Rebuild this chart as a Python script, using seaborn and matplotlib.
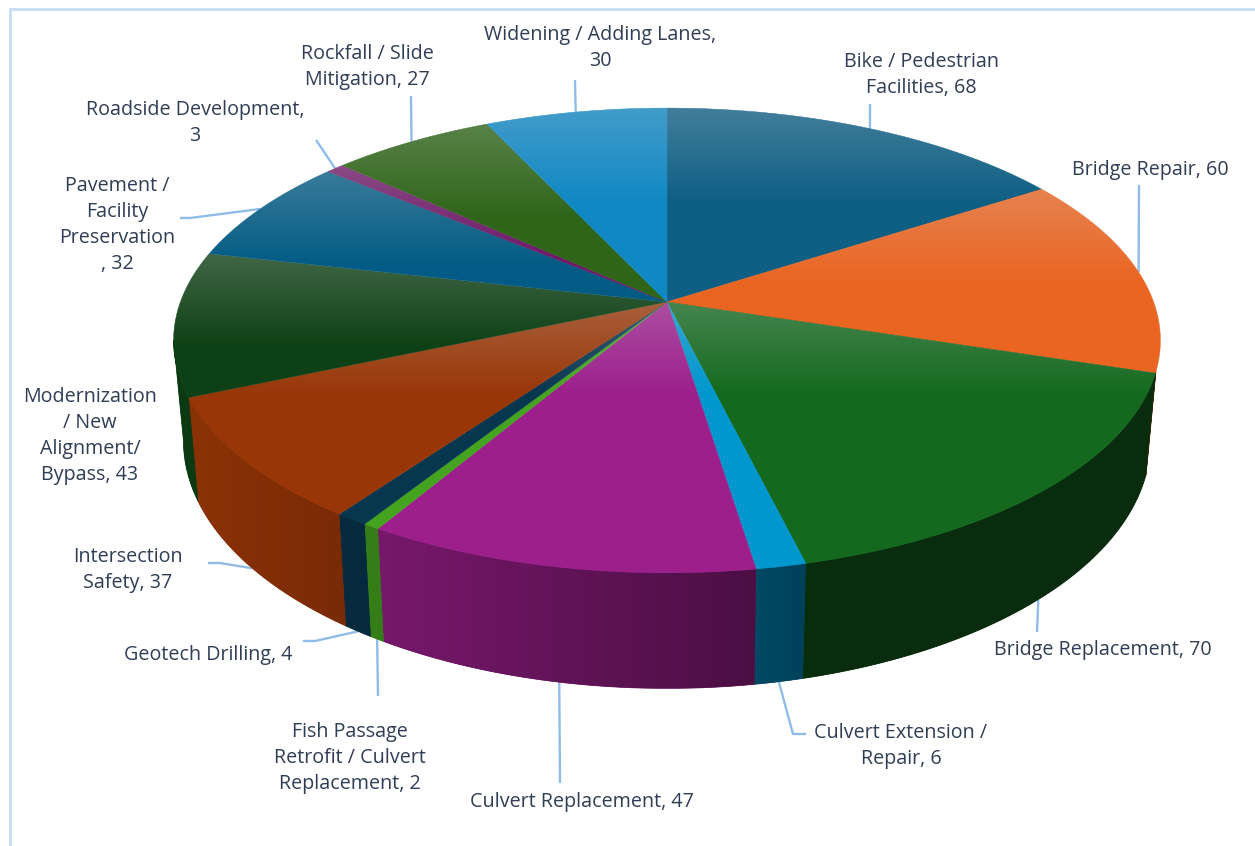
import numpy as np
import matplotlib
matplotlib.use("Agg")
import matplotlib.pyplot as plt
from matplotlib.colors import to_rgb
from matplotlib.patches import Polygon
import seaborn as sns

categories = ["Bike / Pedestrian\nFacilities, ", "Bridge Repair, ", "Bridge Replacement, ",
              "Culvert Extension /\nRepair, ", "Culvert Replacement, ",
              "Fish Passage\nRetrofit / Culvert\nReplacement, ", "Geotech Drilling, ",
              "Intersection\nSafety, ", "Modernization\n/ New\nAlignment/\nBypass, ",
              "Pavement /\nFacility\nPreservation\n, ", "Roadside Development,\n",
              "Rockfall / Slide\nMitigation, ", "Widening / Adding Lanes,\n"]
values = [68, 60, 70, 6, 47, 2, 4, 37, 43, 32, 3, 27, 30]
colors = ["#0F5F85", "#EA6522", "#14691F", "#0096CE", "#9C1F8C", "#44A31F", "#07364F",
          "#983607", "#0D4014", "#025B84", "#6E1A68", "#2E6518", "#1088C4"]
label_pos = [(921, 75), (1150, 170), (1103, 650), (901, 746), (582, 802), (350, 758), (208, 655),
             (128, 570), (90, 436), (117, 225), (195, 123), (367, 67), (600, 48)]
leaders = [[(870, 104)], [(1139, 185)], [(1037, 632)], [(793, 734), (806, 734)], [(560, 783)],
           [(378, 696)], [(315, 641), (303, 641)], [(220, 563), (208, 563)], [],
           [(190, 218), (180, 218)], [(316, 140)], [(411, 96)], [(575, 80)]]

sns.set_theme(style="white", rc={"axes.facecolor": "white", "figure.facecolor": "white"})
plt.rcParams["font.family"] = ["Open Sans", "DejaVu Sans"]

W, H = 1255, 846
fig, ax = plt.subplots(figsize=(W / 100, H / 100), dpi=100)
ax.set_position([0, 0, 1, 1])
ax.set_xlim(0, W)
ax.set_ylim(H, 0)
ax.axis("off")
ax.set_autoscale_on(False)

CX, CY, A, B, P = 667.0, 302.0, 486.6, 226.0, 0.1655


def top(theta):
    x, y = np.sin(theta), np.cos(theta)
    d = 1 + P * y
    return CX + A * x / d, CY - B * y / d


def bottom(theta):
    X, Y = top(theta)
    return CX + (X - CX) * 0.98, CY + (Y - CY) * 1.065 + 98


def shade(x):
    return np.interp(x, [190, 385, 760, 820, 1160], [0.92, 0.76, 0.48, 0.42, 0.42])


edges = np.cumsum([0] + values) / sum(values) * 2 * np.pi
mids = (edges[:-1] + edges[1:]) / 2

# side wall of the disc: front half only, shaded darker towards the right
WALL_FROM, WALL_TO = np.radians(107.0), np.radians(260.5)
for i, col in enumerate(colors):
    lo, hi = max(edges[i], WALL_FROM), min(edges[i + 1], WALL_TO)
    if hi <= lo:
        continue
    grid = np.linspace(lo, hi, max(4, int((hi - lo) * 90)))
    tx, ty = top(grid)
    bx, by = bottom(grid[::-1])
    wx, wy = np.r_[tx, bx], np.r_[ty, by]
    # base layer closes the seams between neighbouring slices
    ax.fill(wx, wy, color=tuple(v * shade(tx.mean()) for v in to_rgb(col)), lw=0.5, zorder=2)
    cols = np.linspace(wx.min(), wx.max(), 64)
    img = np.outer(shade(cols), to_rgb(col)).reshape(1, 64, 3)
    im = ax.imshow(img, extent=(wx.min(), wx.max(), wy.max(), wy.min()), aspect="auto",
                   zorder=2.5, interpolation="bilinear")
    im.set_clip_path(Polygon(np.c_[wx, wy], closed=True, transform=ax.transData))

# top face with a pale sheen along the upper edge of every slice
for i, col in enumerate(colors):
    t = np.linspace(edges[i], edges[i + 1], max(4, int((edges[i + 1] - edges[i]) * 120)))
    xs, ys = top(t)
    xs = np.r_[CX, xs]
    ys = np.r_[CY, ys]
    ax.fill(xs, ys, color=col, lw=0.3, zorder=3)
    ytop = ys.min()
    rows = 90
    grad = np.ones((rows, 1, 4))
    grad[..., :3] = 0.86
    grad[:, 0, 3] = np.linspace(0.25, 0, rows)
    im = ax.imshow(grad, extent=(xs.min(), xs.max(), ytop + 95, ytop), aspect="auto",
                   zorder=4, interpolation="bilinear")
    im.set_clip_path(Polygon(np.c_[xs, ys], closed=True, transform=ax.transData))

ax.set_xlim(0, W)
ax.set_ylim(H, 0)

# leader lines from slice rim to the labels
for i, pts in enumerate(leaders):
    if not pts:
        continue
    X0, Y0 = top(mids[i])
    if np.cos(mids[i]) < -0.2 and WALL_FROM < mids[i] < WALL_TO:
        X0, Y0 = bottom(mids[i])
    ax.plot(*zip(*([(X0, Y0)] + pts)), color="#8FBDE8", lw=1.7, zorder=1, solid_capstyle="butt")

# data labels
for name, val, (x, y) in zip(categories, values, label_pos):
    ax.text(x, y, f"{name}{val}", ha="center", va="center", fontsize=14.2, color="#2F3D55",
            linespacing=1.4, zorder=6)

# screenshot frame: left and top edges
ax.plot([9.5, 9.5, W], [H, 9.5, 9.5], color="#C6DDF4", lw=2, zorder=0, solid_joinstyle="miter")

fig.savefig("out.png", dpi=100)
